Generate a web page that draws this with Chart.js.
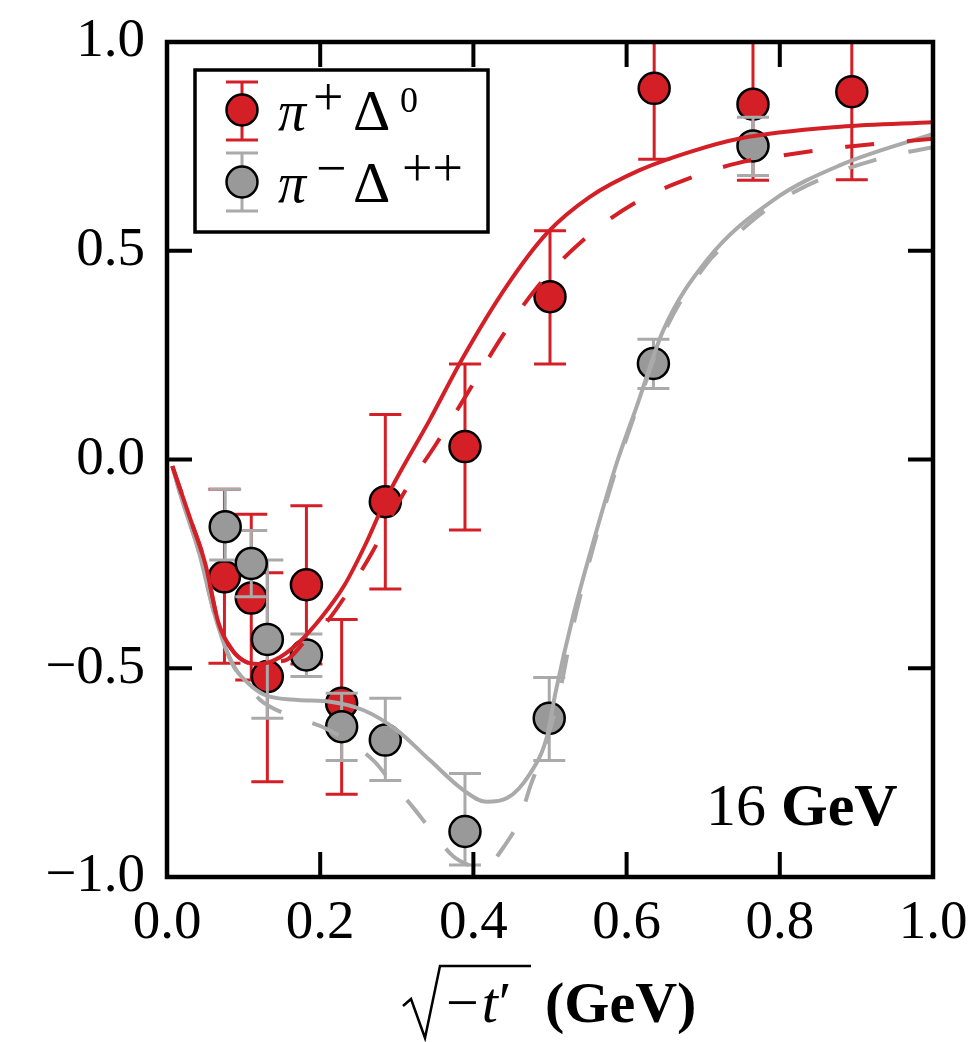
<!DOCTYPE html>
<html><head><meta charset="utf-8">
<script src="https://cdn.jsdelivr.net/npm/chart.js@4/dist/chart.umd.min.js"></script>
<style>html,body{margin:0;padding:0;background:#fff}canvas{display:block}</style>
</head><body>
<canvas id="c" width="973" height="1042"></canvas>
<script>
// ---- data ----
const xTicks = [0.0, 0.2, 0.4, 0.6, 0.8, 1.0];
const yTicks = [-1.0, -0.5, 0.0, 0.5, 1.0];

const redX  = [0.075, 0.110, 0.131, 0.182, 0.228, 0.285, 0.389, 0.500, 0.636, 0.765, 0.894];
const redY  = [-0.281, -0.332, -0.520, -0.300, -0.584, -0.101, 0.031, 0.390, 0.889, 0.851, 0.881];
const redLo = [-0.488, -0.528, -0.772, -0.490, -0.802, -0.310, -0.169, 0.229, 0.719, 0.669, 0.670];
const redHi = [-0.071, -0.131, -0.271, -0.111, -0.383, 0.108, 0.229, 0.548, 1.060, 1.030, 1.090];

const greyX  = [0.076, 0.110, 0.131, 0.182, 0.228, 0.285, 0.389, 0.499, 0.635, 0.765];
const greyY  = [-0.161, -0.249, -0.431, -0.468, -0.640, -0.672, -0.891, -0.620, 0.230, 0.751];
const greyLo = [-0.241, -0.329, -0.620, -0.520, -0.721, -0.769, -0.971, -0.721, 0.170, 0.680];
const greyHi = [-0.071, -0.170, -0.241, -0.418, -0.560, -0.572, -0.752, -0.522, 0.288, 0.820];

const redFitX  = [0.007, 0.03, 0.05, 0.067, 0.085, 0.102, 0.119, 0.141, 0.171, 0.202, 0.232, 0.26, 0.287, 0.343, 0.387, 0.443, 0.496, 0.552, 0.617, 0.683, 0.748, 0.879, 1.0];
const redFitY  = [-0.016, -0.14, -0.25, -0.39, -0.456, -0.484, -0.49, -0.48, -0.44, -0.377, -0.30, -0.20, -0.09, 0.095, 0.246, 0.414, 0.542, 0.629, 0.693, 0.737, 0.769, 0.797, 0.808];

const redDashX = [0.007, 0.03, 0.05, 0.067, 0.085, 0.102, 0.119, 0.141, 0.156, 0.18, 0.208, 0.232, 0.267, 0.309, 0.352, 0.396, 0.438, 0.483, 0.5435, 0.613, 0.687, 0.745, 0.792, 0.887, 1.0];
const redDashY = [-0.016, -0.14, -0.25, -0.39, -0.456, -0.484, -0.49, -0.484, -0.48, -0.436, -0.39, -0.329, -0.225, -0.081, 0.039, 0.17, 0.296, 0.412, 0.526, 0.617, 0.677, 0.71, 0.725, 0.749, 0.768];

const greyFitX = [0.007, 0.02, 0.041, 0.063, 0.085, 0.106, 0.128, 0.171, 0.213, 0.256, 0.30, 0.343, 0.387, 0.417, 0.444, 0.474, 0.496, 0.507, 0.53, 0.561, 0.587, 0.613, 0.648, 0.705, 0.792, 0.879, 1.0];
const greyFitY = [-0.016, -0.10, -0.217, -0.377, -0.488, -0.536, -0.564, -0.576, -0.58, -0.60, -0.648, -0.72, -0.792, -0.82, -0.811, -0.752, -0.664, -0.56, -0.376, -0.169, -0.009, 0.126, 0.31, 0.478, 0.622, 0.705, 0.78];

const greyDashX = [0.007, 0.02, 0.041, 0.063, 0.085, 0.106, 0.121, 0.158, 0.208, 0.269, 0.291, 0.322, 0.346, 0.374, 0.395, 0.412, 0.443, 0.461, 0.474, 0.487, 0.51, 0.53, 0.561, 0.587, 0.613, 0.648, 0.705, 0.731, 0.793, 0.866, 0.948, 1.0];
const greyDashY = [-0.016, -0.10, -0.217, -0.377, -0.488, -0.54, -0.575, -0.612, -0.645, -0.72, -0.768, -0.835, -0.891, -0.951, -0.972, -0.978, -0.919, -0.859, -0.784, -0.72, -0.58, -0.40, -0.18, -0.02, 0.12, 0.30, 0.47, 0.518, 0.612, 0.681, 0.729, 0.748];

const energyLabel = '16';
const energyUnit = 'GeV';

// ---- styling ----
const RED = '#d41f26', GREY = '#999999', GREYL = '#aaaaaa';
const FONT = '"Liberation Serif", "DejaVu Serif", serif';

const pts = (xs, ys) => xs.map((x, i) => ({x, y: ys[i]}));

const errorBars = {
  id: 'errorBars',
  beforeDatasetDraw(chart, args) {
    const ds = chart.data.datasets[args.index];
    if (!ds.errLo) return;
    const {ctx, chartArea: a, scales: {x, y}} = chart;
    ctx.save();
    ctx.beginPath(); ctx.rect(a.left, a.top, a.right - a.left, a.bottom - a.top); ctx.clip();
    ctx.strokeStyle = ds.errColor; ctx.lineWidth = 3;
    ds.data.forEach((p, i) => {
      const px = x.getPixelForValue(p.x);
      const y1 = y.getPixelForValue(ds.errLo[i]), y2 = y.getPixelForValue(ds.errHi[i]);
      ctx.beginPath();
      ctx.moveTo(px, y1); ctx.lineTo(px, y2);
      ctx.moveTo(px - 16, y1); ctx.lineTo(px + 16, y1);
      ctx.moveTo(px - 16, y2); ctx.lineTo(px + 16, y2);
      ctx.stroke();
    });
    ctx.restore();
  }
};

const frame = {
  id: 'frame',
  afterDatasetsDraw(chart) {
    const {ctx, chartArea: a, scales: {x, y}} = chart;
    ctx.save();
    ctx.strokeStyle = '#000'; ctx.lineWidth = 4;
    ctx.beginPath();
    xTicks.forEach(v => {
      const px = x.getPixelForValue(v);
      ctx.moveTo(px, a.bottom); ctx.lineTo(px, a.bottom - 25);
      ctx.moveTo(px, a.top); ctx.lineTo(px, a.top + 25);
    });
    yTicks.forEach(v => {
      const py = y.getPixelForValue(v);
      ctx.moveTo(a.left, py); ctx.lineTo(a.left + 25, py);
      ctx.moveTo(a.right, py); ctx.lineTo(a.right - 25, py);
    });
    ctx.stroke();
    ctx.lineWidth = 4.5;
    ctx.strokeRect(a.left, a.top, a.right - a.left, a.bottom - a.top);
    ctx.restore();
  }
};

function drawMarker(ctx, cx, cy, fill, line, top, bot) {
  ctx.strokeStyle = line; ctx.lineWidth = 3;
  ctx.beginPath();
  ctx.moveTo(cx, top); ctx.lineTo(cx, bot);
  ctx.moveTo(cx - 16, top); ctx.lineTo(cx + 16, top);
  ctx.moveTo(cx - 16, bot); ctx.lineTo(cx + 16, bot);
  ctx.stroke();
  ctx.beginPath(); ctx.arc(cx, cy, 15.5, 0, Math.PI * 2);
  ctx.fillStyle = fill; ctx.fill();
  ctx.lineWidth = 2.5; ctx.strokeStyle = '#000'; ctx.stroke();
}

const decorations = {
  id: 'decorations',
  afterDraw(chart) {
    const {ctx} = chart;
    ctx.save();
    // legend box
    ctx.fillStyle = '#fff';
    ctx.fillRect(195, 70, 293, 162);
    ctx.lineWidth = 3.5; ctx.strokeStyle = '#000';
    ctx.strokeRect(195, 70, 293, 162);
    drawMarker(ctx, 242, 110, RED, RED, 82, 140);
    drawMarker(ctx, 242, 182, GREY, GREYL, 153, 211);
    ctx.fillStyle = '#000'; ctx.textBaseline = 'alphabetic'; ctx.textAlign = 'left';
    const big = 'italic 56px ' + FONT, reg = '58px ' + FONT, sgn = '54px ' + FONT, dig = '36px ' + FONT;
    // row 1: pi^+ Delta^0
    ctx.font = big; ctx.fillText('π', 278, 130);
    ctx.font = sgn; ctx.fillText('+', 313, 115);
    ctx.font = reg; ctx.fillText('Δ', 353, 130);
    ctx.font = dig; ctx.fillText('0', 400, 112);
    // row 2: pi^- Delta^++
    ctx.font = big; ctx.fillText('π', 278, 202);
    ctx.font = sgn; ctx.fillText('−', 316, 186);
    ctx.font = reg; ctx.fillText('Δ', 353, 202);
    ctx.font = sgn; ctx.fillText('++', 402, 186);

    // energy annotation
    ctx.font = '60px ' + FONT;
    const w16 = ctx.measureText(energyLabel + ' ').width;
    ctx.fillText(energyLabel + ' ', 706, 825);
    ctx.font = 'bold 60px ' + FONT;
    ctx.fillText(energyUnit, 706 + w16, 825);

    // axis title: sqrt(-t') (GeV)
    const base = 1022;
    ctx.font = '58px ' + FONT;
    let xx = 446;
    ctx.fillText('−', xx, base); xx += ctx.measureText('−').width + 3;
    ctx.font = 'italic 58px ' + FONT;
    ctx.fillText('t', xx, base); xx += ctx.measureText('t').width + 1;
    ctx.font = '58px ' + FONT;
    ctx.fillText('′', xx, base); xx += ctx.measureText('′').width;
    const barEnd = Math.max(xx + 2, 531);
    ctx.strokeStyle = '#000'; ctx.lineWidth = 2.5; ctx.lineJoin = 'miter';
    ctx.beginPath();
    ctx.moveTo(403, 1006); ctx.lineTo(411, 999); ctx.lineTo(425, 1038);
    ctx.lineTo(440, 966); ctx.lineTo(barEnd, 966);
    ctx.stroke();
    ctx.font = 'bold 58px ' + FONT;
    ctx.fillText('(GeV)', barEnd + 14, base);
    ctx.restore();
  }
};

const fmt = v => (v < 0 ? '−' : '') + Math.abs(v).toFixed(1);
const noPad = s => { s.paddingLeft = 0; s.paddingRight = 0; s.paddingTop = 0; s.paddingBottom = 0; };

new Chart(document.getElementById('c'), {
  data: {
    datasets: [
      {type: 'line', data: pts(redFitX, redFitY), borderColor: RED, borderWidth: 4, pointRadius: 0, fill: false, cubicInterpolationMode: 'monotone', order: 0},
      {type: 'line', data: pts(redDashX, redDashY), borderColor: RED, borderWidth: 4, borderDash: [29, 33], pointRadius: 0, fill: false, cubicInterpolationMode: 'monotone', order: 0},
      {type: 'line', data: pts(greyFitX, greyFitY), borderColor: GREYL, borderWidth: 4, pointRadius: 0, fill: false, cubicInterpolationMode: 'monotone', order: 0},
      {type: 'line', data: pts(greyDashX, greyDashY), borderColor: GREYL, borderWidth: 4, borderDash: [29, 33], pointRadius: 0, fill: false, cubicInterpolationMode: 'monotone', order: 0},
      {type: 'scatter', label: 'π+Δ0', data: pts(redX, redY), errLo: redLo, errHi: redHi, errColor: RED,
       backgroundColor: RED, borderColor: '#000', pointRadius: 15.5, pointBorderWidth: 2.5, order: 2},
      {type: 'scatter', label: 'π−Δ++', data: pts(greyX, greyY), errLo: greyLo, errHi: greyHi, errColor: GREYL,
       backgroundColor: GREY, borderColor: '#000', pointRadius: 15.5, pointBorderWidth: 2.5, order: 1}
    ]
  },
  options: {
    responsive: false, animation: false, devicePixelRatio: 1,
    layout: {padding: {top: 42, right: 40, left: 0, bottom: 0}},
    plugins: {legend: {display: false}, tooltip: {enabled: false}},
    scales: {
      x: {type: 'linear', min: 0, max: 1,
          afterBuildTicks(s) { s.ticks = xTicks.map(v => ({value: v})); },
          ticks: {callback: v => fmt(v), font: {family: FONT, size: 55}, color: '#000', padding: 14, maxRotation: 0, autoSkip: false},
          grid: {display: false, drawTicks: false}, border: {display: false},
          afterFit(s) { s.height = 165; noPad(s); }},
      y: {type: 'linear', min: -1, max: 1,
          afterBuildTicks(s) { s.ticks = yTicks.map(v => ({value: v})); },
          ticks: {callback: v => fmt(v), font: {family: FONT, size: 55}, color: '#000', padding: 22, autoSkip: false},
          grid: {display: false, drawTicks: false}, border: {display: false},
          afterFit(s) { s.width = 167; noPad(s); }}
    }
  },
  plugins: [errorBars, frame, decorations]
});
</script>
</body></html>
